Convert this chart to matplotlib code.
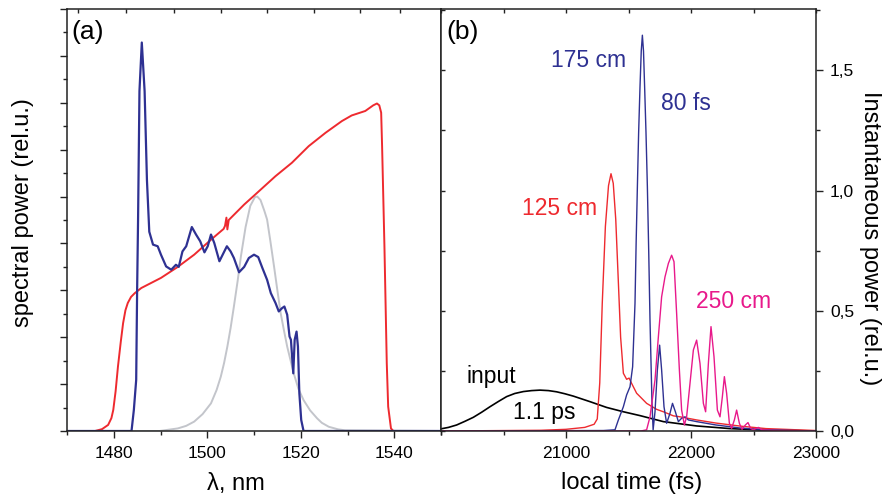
import numpy as np
import matplotlib
matplotlib.use("Agg")
import matplotlib.pyplot as plt
from matplotlib.ticker import MultipleLocator, FixedLocator, NullFormatter

plt.rcParams['font.family'] = ['Liberation Sans', 'DejaVu Sans']
plt.rcParams['lines.solid_joinstyle'] = 'round'

# ---- panel (a): spectra vs wavelength (nm) ----
red_wl = [1470, 1476, 1477.5, 1478.8, 1479.5, 1479.9, 1480.4, 1480.9, 1481.5, 1482.0,
          1482.5, 1483.0, 1483.7, 1484.5, 1485.9, 1490.1, 1493.7, 1497.2, 1500.8, 1502.5,
          1503.5, 1503.8, 1504.1, 1504.3, 1504.6, 1507.9, 1510.4, 1514.6, 1518.1, 1521.7,
          1525.3, 1528.8, 1530.9, 1533.8, 1535.5, 1536.3, 1536.8, 1537.2, 1537.4, 1537.9,
          1538.4, 1538.7, 1539.3, 1539.8, 1550]
red_sp = [0, 0, 0.008, 0.026, 0.055, 0.09, 0.17, 0.275, 0.38, 0.46,
          0.515, 0.546, 0.572, 0.588, 0.61, 0.653, 0.70, 0.752, 0.816, 0.845,
          0.862, 0.875, 0.91, 0.86, 0.90, 0.966, 1.011, 1.087, 1.144, 1.215,
          1.272, 1.322, 1.346, 1.365, 1.389, 1.397, 1.389, 1.358, 1.215, 0.788,
          0.289, 0.104, 0.011, 0, 0]

blue_wl = [1470, 1483.8, 1484.3, 1484.8, 1485.0, 1485.2, 1485.5, 1486.0, 1486.6, 1487.1,
           1487.6, 1488.4, 1489.4, 1490.1, 1491.2, 1492.3, 1493.3, 1493.9, 1494.7, 1495.5,
           1496.7, 1497.6, 1498.5, 1499.4, 1500.1, 1500.8, 1501.5, 1502.6, 1503.3, 1504.2,
           1505.0, 1505.7, 1506.8, 1507.9, 1508.9, 1510.0, 1510.9, 1511.8, 1512.8, 1513.6,
           1514.6, 1515.3, 1516.0, 1516.5, 1517.1, 1517.6, 1517.9, 1518.4, 1518.7, 1519.1,
           1519.4, 1519.7, 1520.1, 1520.6, 1550]
blue_sp = [0, 0, 0.09, 0.218, 0.60, 0.90, 1.45, 1.657, 1.45, 1.07,
           0.85, 0.795, 0.788, 0.752, 0.702, 0.688, 0.709, 0.70, 0.766, 0.788,
           0.87, 0.838, 0.809, 0.762, 0.788, 0.838, 0.802, 0.724, 0.752, 0.788,
           0.766, 0.738, 0.677, 0.70, 0.738, 0.752, 0.742, 0.695, 0.645, 0.588,
           0.546, 0.51, 0.524, 0.531, 0.496, 0.403, 0.389, 0.246, 0.389, 0.424,
           0.36, 0.161, 0.047, 0, 0]

gray_wl = [1470, 1489.8, 1493.7, 1495.5, 1497.2, 1499.0, 1500.8, 1502.0, 1502.9, 1503.6,
           1504.3, 1505.0, 1505.7, 1506.5, 1507.2, 1508.2, 1509.2, 1510.2, 1510.7, 1511.4,
           1512.2, 1512.8, 1513.5, 1514.3, 1515.0, 1515.7, 1516.4, 1517.1, 1518.5, 1519.5,
           1520.6, 1522.0, 1523.5, 1524.5, 1526.0, 1528.0, 1529.5, 1550]
gray_sp = [0, 0, 0.011, 0.022, 0.04, 0.072, 0.118, 0.175, 0.232, 0.29,
           0.36, 0.44, 0.531, 0.64, 0.745, 0.87, 0.96, 0.998, 1.0, 0.985,
           0.94, 0.902, 0.81, 0.70, 0.60, 0.503, 0.43, 0.36, 0.246, 0.18,
           0.132, 0.088, 0.054, 0.035, 0.018, 0.007, 0.003, 0]

# ---- panel (b): instantaneous power vs local time (fs) ----
input_t = [20000, 20060, 20125, 20190, 20259, 20325, 20392, 20460, 20525, 20590,
           20659, 20725, 20792, 20860, 20925, 20990, 21059, 21192, 21325, 21459,
           21592, 21779, 22045, 22312, 22579, 23000]
input_p = [0.009, 0.015, 0.025, 0.04, 0.057, 0.078, 0.101, 0.123, 0.143, 0.156,
           0.164, 0.168, 0.170, 0.168, 0.163, 0.155, 0.145, 0.122, 0.098, 0.08,
           0.064, 0.039, 0.021, 0.01, 0.004, 0]

r125_t = [20000, 20800, 21000, 21150, 21225, 21250, 21270, 21290, 21315, 21340,
          21360, 21378, 21398, 21418, 21437, 21459, 21485, 21505, 21525, 21565,
          21592, 21645, 21725, 21779, 21859, 21912, 22045, 22200, 22400, 22600, 23000]
r125_p = [0, 0.003, 0.007, 0.015, 0.028, 0.05, 0.2, 0.53, 0.85, 1.02,
          1.07, 1.03, 0.88, 0.63, 0.39, 0.24, 0.215, 0.22, 0.198, 0.157,
          0.143, 0.115, 0.09, 0.08, 0.063, 0.059, 0.046, 0.033, 0.02, 0.01, 0.002]

b175_t = [20000, 21300, 21392, 21419, 21459, 21485, 21512, 21533, 21552, 21561,
          21571, 21581, 21592, 21602, 21611, 21620, 21629, 21640, 21651, 21662,
          21672, 21688, 21697, 21712, 21731, 21749, 21765, 21784, 21805, 21832,
          21852, 21875, 21899, 21925, 21952, 21979, 22045, 22200, 22400, 22600, 23000]
b175_p = [0, 0.002, 0.005, 0.046, 0.101, 0.15, 0.184, 0.267, 0.531, 0.78,
          1.015, 1.24, 1.431, 1.58, 1.646, 1.58, 1.431, 1.24, 1.015, 0.74,
          0.461, 0.115, 0.005, 0.08, 0.254, 0.357, 0.254, 0.101, 0.032, 0.074,
          0.115, 0.08, 0.039, 0.053, 0.059, 0.046, 0.039, 0.025, 0.012, 0.005, 0]

m250_t = [20000, 21600, 21645, 21672, 21712, 21739, 21765, 21792, 21819, 21845,
          21864, 21885, 21907, 21925, 21947, 21965, 21992, 22019, 22045, 22072,
          22099, 22117, 22139, 22160, 22184, 22211, 22232, 22251, 22267, 22285,
          22307, 22325, 22347, 22365, 22387, 22408, 22435, 22456, 22477, 22499,
          22539, 22565, 22700, 23000]
m250_p = [0, 0, 0.005, 0.059, 0.212, 0.392, 0.558, 0.641, 0.697, 0.731,
          0.704, 0.489, 0.254, 0.087, 0.025, 0.059, 0.198, 0.337, 0.378, 0.281,
          0.115, 0.08, 0.281, 0.434, 0.309, 0.087, 0.059, 0.143, 0.226, 0.157,
          0.032, 0.011, 0.046, 0.087, 0.032, 0.007, 0.025, 0.035, 0.011, 0.005,
          0.015, 0.005, 0.002, 0]

a_xticks = [1480, 1500, 1520, 1540]
a_top_ticks = [1472.4, 1482.7, 1492.8, 1502.9, 1512.8, 1522.8, 1532.7, 1541.2]
b_xticks = [21000, 22000, 23000]
b_yticks = [0.0, 0.5, 1.0, 1.5]
b_yticklabels = ['0,0', '0,5', '1,0', '1,5']

BLUE = '#2e3192'
RED = '#ee2a2f'
MAGENTA = '#e8198b'
GRAY = '#c3c5cb'
SPINE = '#222222'

W, H = 883, 498
fig = plt.figure(figsize=(W / 100, H / 100), dpi=100)
axa = fig.add_axes([67 / W, (H - 431) / H, 374 / W, 422 / H])
axb = fig.add_axes([441 / W, (H - 431) / H, 375 / W, 422 / H])

for ax in (axa, axb):
    for s in ax.spines.values():
        s.set_linewidth(1.1)
        s.set_color(SPINE)

# panel (a)
axa.plot(gray_wl, gray_sp, color=GRAY, lw=1.4)
axa.plot(red_wl, red_sp, color=RED, lw=1.4)
axa.plot(blue_wl, blue_sp, color=BLUE, lw=1.6)
axa.set_xlim(1470, 1550)
axa.set_ylim(0, 1.8)
axa.set_xticks(a_xticks)
axa.xaxis.set_minor_locator(MultipleLocator(10))
axa.yaxis.set_major_locator(MultipleLocator(0.2))
axa.yaxis.set_minor_locator(MultipleLocator(0.1))
axa.yaxis.set_major_formatter(NullFormatter())
axa.tick_params(which='both', direction='out', color=SPINE, width=1, labelsize=12.5, pad=6)
axa.tick_params(which='major', length=5)
axa.tick_params(which='minor', length=3)
topa = axa.secondary_xaxis('top')
topa.set_xticks(a_top_ticks)
topa.xaxis.set_major_formatter(NullFormatter())
topa.tick_params(direction='in', length=3, width=1, color=SPINE)
topa.spines['top'].set_visible(False)
axa.text(0.013, 0.975, '(a)', transform=axa.transAxes, ha='left', va='top', fontsize=19)

# panel (b)
axb.plot(input_t, input_p, color='black', lw=1.2)
axb.plot(r125_t, r125_p, color=RED, lw=1.0)
axb.plot(b175_t, b175_p, color=BLUE, lw=1.0)
axb.plot(m250_t, m250_p, color=MAGENTA, lw=1.0)
axb.set_xlim(20000, 23000)
axb.set_ylim(0, 1.755)
axb.set_xticks(b_xticks)
axb.xaxis.set_minor_locator(FixedLocator([20000, 20500, 21500, 22500]))
axb.yaxis.set_major_locator(MultipleLocator(0.5))
axb.yaxis.set_minor_locator(MultipleLocator(0.25))
axb.yaxis.set_major_formatter(NullFormatter())
axb.tick_params(axis='x', which='both', direction='out', color=SPINE, width=1, labelsize=12.5, pad=6)
axb.tick_params(axis='x', which='major', length=5)
axb.tick_params(axis='x', which='minor', length=3)
axb.tick_params(axis='y', which='both', direction='in', length=3, color=SPINE, width=1)
topb = axb.secondary_xaxis('top')
topb.xaxis.set_major_locator(MultipleLocator(500))
topb.xaxis.set_major_formatter(NullFormatter())
topb.tick_params(direction='in', length=3, width=1, color=SPINE)
topb.spines['top'].set_visible(False)
rb = axb.secondary_yaxis('right')
rb.set_yticks(b_yticks)
rb.set_yticklabels(b_yticklabels)
rb.yaxis.set_minor_locator(MultipleLocator(0.25))
rb.tick_params(which='both', direction='out', color=SPINE, width=1, labelsize=12.5, pad=5)
rb.tick_params(which='major', length=5)
rb.tick_params(which='minor', length=3)
rb.spines['right'].set_visible(False)
axb.text(0.015, 0.975, '(b)', transform=axb.transAxes, ha='left', va='top', fontsize=19)

axb.text(21184, 1.514, '175 cm', color=BLUE, fontsize=16.5, ha='center', va='baseline')
axb.text(21958, 1.334, '80 fs', color=BLUE, fontsize=16.5, ha='center', va='baseline')
axb.text(20952, 0.898, '125 cm', color=RED, fontsize=16.5, ha='center', va='baseline')
axb.text(22341, 0.51, '250 cm', color=MAGENTA, fontsize=16.5, ha='center', va='baseline')
axb.text(20405, 0.20, 'input', color='black', fontsize=16.5, ha='center', va='baseline')
axb.text(20827, 0.049, '1.1 ps', color='black', fontsize=16.5, ha='center', va='baseline')

# axis labels
fig.text(23 / W, (H - 213) / H, 'spectral power (rel.u.)', rotation=90,
         ha='center', va='center', fontsize=17)
fig.text(870 / W, (H - 238) / H, 'Instantaneous power (rel.u.)', rotation=270,
         ha='center', va='center', fontsize=17)
fig.text(236 / W, (H - 484) / H, 'λ, nm', ha='center', va='center', fontsize=17)
fig.text(632 / W, (H - 483) / H, 'local time (fs)', ha='center', va='center', fontsize=17)

fig.savefig('out.png', dpi=100)
